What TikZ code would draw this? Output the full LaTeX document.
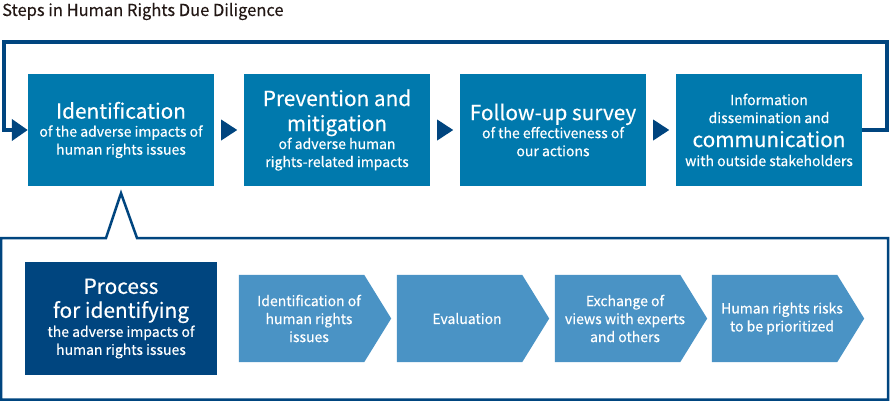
\documentclass[tikz,border=0pt]{standalone}
\usepackage{fontspec}
\setmainfont{Noto Sans CJK JP}[UprightFeatures={FakeBold=0.35}]
\usetikzlibrary{arrows.meta,calc,backgrounds}
\definecolor{boxc}{HTML}{0079AD}
\definecolor{navy}{HTML}{00457F}
\definecolor{chevc}{HTML}{4A93C5}
\definecolor{titlec}{HTML}{231815}
\newcommand\bigtxt[1]{{\fontsize{20.8}{24}\selectfont #1}}
\begin{document}
\begin{tikzpicture}[x=1pt,y=-1pt,
  stepbox/.style={fill=boxc, text=white, minimum width=186pt, minimum height=112pt, inner sep=0pt, align=center, font=\fontsize{14}{18}\selectfont},
  procbox/.style={fill=navy, text=white, minimum width=192pt, minimum height=113pt, inner sep=0pt, align=center, font=\fontsize{14}{18}\selectfont},
  chev/.style={text=white, minimum width=140pt, minimum height=87pt, inner sep=0pt, align=center, font=\fontsize{14}{18}\selectfont},
  tri/.style={fill=navy},
  loopline/.style={navy, line width=4pt, -{Triangle[length=16pt,width=21pt]}},
  frame/.style={navy, line width=2.5pt}]
\useasboundingbox (0,0) rectangle (890,402);
\node[anchor=base west, inner sep=0pt, text=titlec, font=\fontsize{16.5}{19}\selectfont] (title) at (2,16) {Steps in Human Rights Due Diligence};

\node[stepbox] (b1) at (121,130) {\bigtxt{Identification}\\of the adverse impacts of\\human rights issues};
\node[stepbox] (b2) at (337,130) {\bigtxt{Prevention and}\\[7pt]\bigtxt{mitigation}\\of adverse human\\rights-related impacts};
\node[stepbox] (b3) at (553,130) {\bigtxt{Follow-up survey}\\of the effectiveness of\\our actions};
\node[stepbox] (b4) at (769,130) {Information\\dissemination and\\[6pt]\bigtxt{communication}\\[1pt]with outside stakeholders};

\foreach \a in {b1,b2,b3}{
  \fill[tri] ($(\a.east)+(7,-10.5)$) -- ($(\a.east)+(23,0)$) -- ($(\a.east)+(7,10.5)$) -- cycle;
}
\draw[loopline] (b4.east) -- (887,130) -- (887,42) -- (4,42) -- (4,130) -- (b1.west);

\coordinate (apex) at ($(b1.south)+(0,7)$);
\draw[frame] (1,238) -- (106,238) -- (apex) -- (137,238) -- (888,238) -- (888,399.5) -- (1,399.5) -- cycle;

\node[procbox] (p) at (121,318.5) {\bigtxt{Process}\\[6pt]\bigtxt{for identifying}\\[1pt]the adverse impacts of\\human rights issues};

\node[chev] (c1) at (309,318.5) {Identification of\\human rights\\issues};
\node[chev] (c2) at (467,318.5) {Evaluation};
\node[chev] (c3) at (625,318.5) {Exchange of\\views with experts\\and others};
\node[chev] (c4) at (782,318.5) {Human rights risks\\to be prioritized};

\begin{scope}[on background layer]
\foreach \c in {c1,c2,c3,c4}{
  \fill[chevc] (\c.north west) -- ($(\c.north east)+(-15,0)$) -- ($(\c.east)+(12,0)$) -- ($(\c.south east)+(-15,0)$) -- (\c.south west) -- cycle;
}
\end{scope}
\end{tikzpicture}
\end{document}
